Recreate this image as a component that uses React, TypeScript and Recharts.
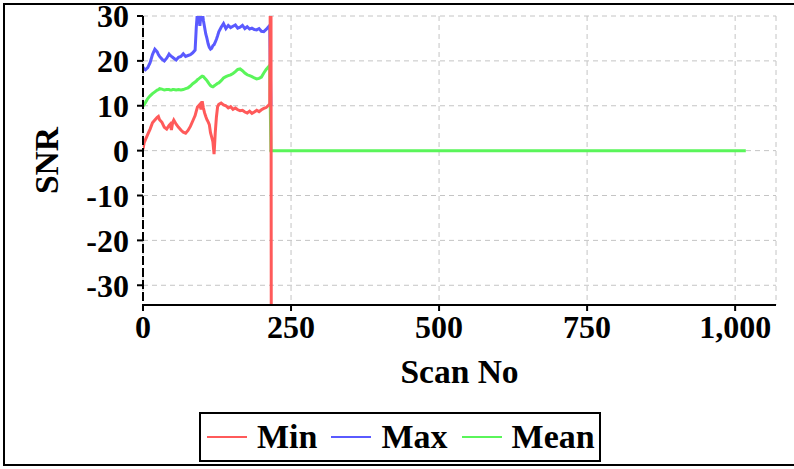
import React from 'react';
import { LineChart, Line, XAxis, YAxis, CartesianGrid, Legend } from 'recharts';

const scans = [0,2,4,8,12,16,20,24,26,28,32,36,40,44,46,48,50,52,56,60,64,68,72,76,80,84,88,90,92,94,96,98,100,102,104,106,108,110,112,114,116,118,120,121,122,124,126,128,132,136,140,144,148,152,156,160,164,168,172,176,180,184,188,192,196,200,204,208,212,214,216,217,218,1018];

const maxValues: (number | null)[] = [18.6,18.2,18.0,18.5,19.6,21.4,22.6,22.0,21.4,21.0,20.4,20.0,20.6,21.5,21.2,21.0,20.8,20.6,20.2,20.8,21.0,21.6,21.0,21.2,21.4,21.8,22.4,27.5,31.0,30.5,27.8,30.2,31.0,29.0,27.5,26.0,25.0,23.8,23.0,22.6,22.8,23.4,23.6,23.9,24.2,24.8,25.6,26.5,27.5,28.3,27.2,27.9,27.4,27.7,28.0,27.3,27.5,27.9,27.2,27.6,27.1,27.3,27.0,26.9,27.2,26.6,26.5,27.0,27.6,27.9,10,null,null,null];

const meanValues: (number | null)[] = [9.9,10.3,10.7,11.6,12.2,12.7,13.1,13.5,13.6,13.8,13.7,13.5,13.6,13.6,13.5,13.5,13.6,13.6,13.5,13.6,13.5,13.6,13.8,14.0,14.4,14.9,15.3,15.5,15.8,16.0,16.2,16.4,16.6,16.5,16.2,15.9,15.6,15.2,14.8,14.5,14.3,14.2,14.4,14.5,14.6,14.8,15.0,15.1,15.6,16.2,16.5,16.7,16.9,17.2,17.6,18.1,18.2,17.8,17.3,16.9,16.7,16.5,16.2,16.0,16.1,16.4,17.3,18.1,18.7,19.0,0,0,0,0];

const minValues: (number | null)[] = [0.3,1.8,2.4,3.6,4.8,6.2,6.8,7.4,7.6,6.9,6.3,5.2,4.8,5.6,5.9,4.6,6.2,6.8,5.9,5.2,4.6,4.1,3.9,4.5,5.4,6.6,7.8,8.8,9.7,10.0,10.3,9.2,11.0,9.5,8.4,7.6,6.9,6.4,5.8,4.0,3.0,2.0,-0.8,1.5,4.0,7.5,9.8,10.3,10.6,10.2,10.0,9.5,9.8,9.2,9.5,9.1,8.9,9.0,8.6,8.4,8.8,8.3,8.6,9.0,8.7,9.1,9.4,9.6,10.1,10.4,60,-100,null,null];

const xTicks = [0, 250, 500, 750, 1000];
const yTicks = [-30, -20, -10, 0, 10, 20, 30];

const series = [
  { key: 'min', name: 'Min', color: '#ff5a5a' },
  { key: 'max', name: 'Max', color: '#5a5aff' },
  { key: 'mean', name: 'Mean', color: '#5af55a' },
];

const data = scans.map((s, i) => ({ scan: s, min: minValues[i], max: maxValues[i], mean: meanValues[i] }));

const FONT = "'Liberation Serif', 'Times New Roman', serif";
const tickStyle = { fill: '#000', fontSize: 32, fontWeight: 700, fontFamily: FONT };
const titleStyle = { fill: '#000', fontSize: 33.5, fontWeight: 700, fontFamily: FONT };

const LegendBox = () => (
  <div
    style={{
      boxSizing: 'border-box',
      width: 402,
      height: 50,
      border: '2px solid #000',
      display: 'flex',
      alignItems: 'center',
      paddingLeft: 6,
      fontFamily: FONT,
      fontWeight: 700,
      fontSize: 34,
      color: '#000',
      background: '#fff',
      whiteSpace: 'nowrap',
      overflow: 'hidden',
    }}
  >
    {series.map((s) => (
      <div key={s.key} style={{ display: 'flex', alignItems: 'center', marginRight: 14 }}>
        <div style={{ width: 40, height: 2, background: s.color, marginRight: 10 }} />
        <span style={{ lineHeight: '46px' }}>{s.name}</span>
      </div>
    ))}
  </div>
);

export default function App() {
  return (
    <div style={{ position: 'absolute', left: 0, top: 0, width: 794, height: 469, background: '#fff', overflow: 'hidden' }}>
      <LineChart
        width={794}
        height={469}
        data={data}
        margin={{ top: 16, right: 18, left: 0, bottom: 81 }}
      >
        <CartesianGrid stroke="#c4c4c4" strokeDasharray="5 4" />
        <XAxis
          dataKey="scan"
          type="number"
          domain={[0, 1069]}
          ticks={xTicks}
          allowDataOverflow
          interval={0}
          tickFormatter={(v: number) => v.toLocaleString('en-US')}
          axisLine={{ stroke: '#000', strokeWidth: 2 }}
          tickLine={{ stroke: '#000', strokeWidth: 2 }}
          tickSize={6}
          tickMargin={4}
          tick={tickStyle}
          height={83}
          label={{ value: 'Scan No', position: 'insideBottom', offset: 5, style: titleStyle }}
        />
        <YAxis
          type="number"
          domain={[-34.4, 30]}
          ticks={yTicks}
          allowDataOverflow
          interval={0}
          width={143}
          axisLine={{ stroke: '#000', strokeWidth: 2, strokeDasharray: '9 3' }}
          tickLine={{ stroke: '#000', strokeWidth: 2 }}
          tickSize={6}
          tickMargin={8}
          tick={tickStyle}
          label={{ value: 'SNR', angle: -90, position: 'insideLeft', offset: 46, style: { ...titleStyle, textAnchor: 'middle' } }}
        />
        <Legend
          verticalAlign="middle"
          align="center"
          layout="horizontal"
          wrapperStyle={{ left: 199, top: 412, width: 402, height: 50 }}
          content={() => <LegendBox />}
        />
        <Line dataKey="max" name="Max" stroke="#5a5aff" strokeWidth={3} dot={false} isAnimationActive={false} />
        <Line dataKey="mean" name="Mean" stroke="#5af55a" strokeWidth={3} dot={false} isAnimationActive={false} />
        <Line dataKey="min" name="Min" stroke="#ff5a5a" strokeWidth={3} dot={false} isAnimationActive={false} />
      </LineChart>
      <div
        style={{
          position: 'absolute',
          left: 3,
          top: 3,
          width: 791,
          height: 463,
          boxSizing: 'border-box',
          borderTop: '2px solid #000',
          borderLeft: '2px solid #000',
          borderBottom: '2px solid #000',
          pointerEvents: 'none',
        }}
      />
    </div>
  );
}
